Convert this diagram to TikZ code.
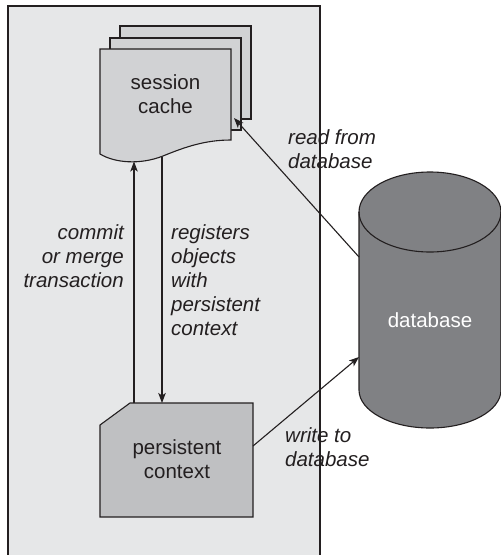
\documentclass[tikz,border=0pt]{standalone}
\usepackage{fontspec}
\setmainfont{Liberation Sans}
\usetikzlibrary{arrows.meta}
\definecolor{ink}{HTML}{231F20}
\definecolor{panelgray}{HTML}{E6E7E8}
\definecolor{sheetgray}{HTML}{D1D2D4}
\definecolor{pcgray}{HTML}{BFC0C2}
\definecolor{dbgray}{HTML}{808184}
\begin{document}
\begin{tikzpicture}[x=1pt,y=-1pt,line join=miter,
  shapeline/.style={draw=ink,line width=1.1pt},
  txt/.style={font=\fontsize{20.5}{24}\selectfont,text=ink,inner sep=0pt,align=center},
  lbl/.style={font=\fontsize{20.5}{24}\itshape\selectfont,text=ink,inner sep=0pt},
  arr/.style={draw=ink,line width=1.1pt,-{Stealth[length=10pt,width=7.5pt,inset=2.5pt]}}]
\useasboundingbox (0,0) rectangle (501,555);
\clip (0,0) rectangle (501,555);
\fill[white] (0,0) rectangle (501,555);
% panel
\draw[fill=panelgray,draw=ink,line width=1.5pt] (8,6) rectangle (320,590);
% session cache sheets
\draw[shapeline,fill=sheetgray] (120,26) rectangle (251,119);
\draw[shapeline,fill=sheetgray] (110,38) rectangle (241,130);
\draw[shapeline,fill=sheetgray] (100,49) -- (231,49) -- (231,140)
  .. controls (205,140) and (185,147) .. (163,156)
  .. controls (140,165) and (115,163) .. (100,154) -- cycle;
\node[txt] (sc) at (165.5,94) {session\\cache};
% persistent context
\draw[shapeline,fill=pcgray] (130,403) -- (253,403) -- (253,517) -- (100,517) -- (100,425) -- cycle;
\node[txt] (pc) at (177,459.5) {persistent\\context};
% database cylinder
\draw[shapeline,fill=dbgray] (359,212) -- (359,390)
  arc[start angle=180,end angle=0,x radius=71,y radius=38]
  -- (501,212) arc[start angle=0,end angle=-180,x radius=71,y radius=40] -- cycle;
\draw[shapeline] (359,212) arc[start angle=180,end angle=0,x radius=71,y radius=40];
\node[txt,text=white] (db) at (430,320) {database};
% connector end points
\coordinate (scBotA) at (134,161.5);
\coordinate (scBotB) at (162,156.5);
\coordinate (scCorner) at (234,118);
\coordinate (pcTopA) at (134,403);
\coordinate (pcTopB) at (162,403);
\coordinate (pcRight) at (253,446);
\coordinate (dbLeftA) at (359,257);
\coordinate (dbLeftB) at (359,357);
% connectors
\draw[arr] (pcTopA) -- (scBotA);
\draw[arr] (scBotB) -- (pcTopB);
\draw[arr] (dbLeftA) -- (scCorner);
\draw[arr] (pcRight) -- (dbLeftB);
% labels
\node[lbl,anchor=west,align=left] (lread) at (288,149) {read from\\database};
\node[lbl,anchor=east,align=right] (lcommit) at (124,256.5) {commit\\or merge\\transaction};
\node[lbl,anchor=west,align=left] (lreg) at (171,280.5) {registers\\objects\\with\\persistent\\context};
\node[lbl,anchor=west,align=left] (lwrite) at (285,447.5) {write to\\database};
\end{tikzpicture}
\end{document}
